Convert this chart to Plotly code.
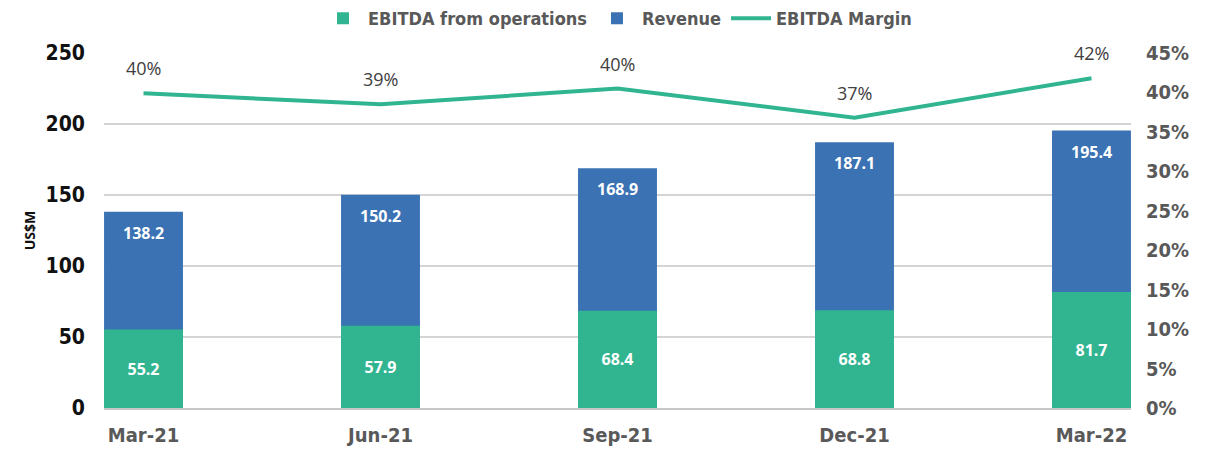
import plotly.graph_objects as go

quarters = ["Mar-21", "Jun-21", "Sep-21", "Dec-21", "Mar-22"]
ebitda = [55.2, 57.9, 68.4, 68.8, 81.7]
revenue = [138.2, 150.2, 168.9, 187.1, 195.4]
margin = [39.9, 38.5, 40.5, 36.8, 41.8]
margin_labels = ["40%", "39%", "40%", "37%", "42%"]
left_ticks = [0, 50, 100, 150, 200, 250]
right_ticks = [0, 5, 10, 15, 20, 25, 30, 35, 40, 45]

GREEN = "#31B591"
BLUE = "#3A72B3"
COND = "DejaVu Sans Condensed, Liberation Sans Narrow, Arial Narrow, sans-serif"
LBL = "Open Sans, Liberation Sans, sans-serif"

fig = go.Figure()
fig.add_trace(go.Bar(
    x=quarters, y=revenue, name="Revenue", marker_color=BLUE,
    marker_line_width=0, width=0.333, legendrank=2,
))
fig.add_trace(go.Bar(
    x=quarters, y=ebitda, name="EBITDA from operations", marker_color=GREEN,
    marker_line_width=0, width=0.333, legendrank=1,
    text=[f"{v:.1f}" for v in ebitda], textposition="inside",
    insidetextanchor="middle", textangle=0,
    textfont=dict(color="white", size=16, family=LBL, weight="bold"),
))
fig.add_trace(go.Scatter(
    x=quarters, y=margin, name="EBITDA Margin", mode="lines",
    line=dict(color=GREEN, width=4), yaxis="y2", legendrank=3,
))

# revenue labels near top of blue bar
for q, r in zip(quarters, revenue):
    fig.add_annotation(x=q, y=r, text=f"{r:.1f}", showarrow=False,
                       yanchor="middle", yshift=-21, xref="x", yref="y",
                       font=dict(color="white", size=16, family=LBL, weight="bold"))
# margin labels above the line
for q, m, t in zip(quarters, margin, margin_labels):
    fig.add_annotation(x=q, y=m, text=t, showarrow=False,
                       yanchor="middle", yshift=25, xref="x", yref="y2",
                       font=dict(color="#404040", size=18, family=LBL))

fig.update_layout(
    width=1206, height=442,
    margin=dict(l=96, r=83, t=45, b=42, autoexpand=False),
    paper_bgcolor="white", plot_bgcolor="rgba(0,0,0,0)",
    barmode="overlay",
    showlegend=True,
    legend=dict(orientation="h", x=0.5, xanchor="center", y=1.097, yanchor="middle",
                font=dict(size=18, family=COND, color="#595959", weight="bold"),
                traceorder="normal", bgcolor="rgba(0,0,0,0)", itemwidth=40,
                tracegroupgap=0),
    xaxis=dict(range=[-0.1667, 4.1667], showgrid=False, showline=True,
               linecolor="#c8c8c8", linewidth=2, ticks="", automargin=False,
               ticklabelstandoff=8,
               tickfont=dict(size=20, family=COND, color="#595959", weight="bold")),
    yaxis=dict(range=[0, 250], tickvals=left_ticks, showgrid=True,
               gridcolor="#d4d4d4", gridwidth=1.5, zeroline=False, showline=False,
               ticklabelstandoff=18, automargin=False,
               tickfont=dict(size=21, family=COND, color="#111111", weight="bold"),
               title=dict(text="US$M", standoff=6,
                          font=dict(size=14, family=LBL, color="#111111", weight="bold"))),
    yaxis2=dict(range=[0, 45], overlaying="y", side="right", tickvals=right_ticks,
                ticktext=[f"{v}%" for v in right_ticks], showgrid=False,
                zeroline=False, showline=False, ticklabelstandoff=14, automargin=False,
                tickfont=dict(size=20, family=COND, color="#595959", weight="bold")),
)

fig.write_html("out.html")
